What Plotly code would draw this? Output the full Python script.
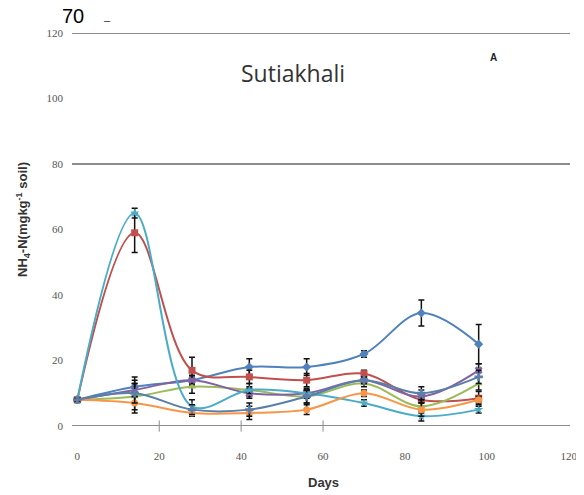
import plotly.graph_objects as go

days = [0, 14, 28, 42, 56, 70, 84, 98]

series_names = ["T1", "T2", "T3", "T4", "T5", "T6", "T7"]
blue = [8, 12, 14, 18, 18, 22, 34.5, 25]
red = [8, 59, 17, 15, 14, 16, 8, 8.5]
green = [8, 9, 12, 11, 9, 13, 6, 13]
purple = [8, 11, 14, 10, 10, 14, 9, 17]
cyan = [8, 65, 6, 11, 10, 7, 3, 5]
orange = [8, 7, 4, 4, 5, 10, 5, 8]
slate = [8, 10, 5, 5, 9, 14, 10, 15]

blue_err = [0.5, 3, 1.5, 2.5, 2.5, 1, 4, 6]
red_err = [0.5, 6, 4, 2, 2, 1, 2, 2]
green_err = [0.5, 5, 2, 2, 2, 1, 2, 2]
purple_err = [0.5, 2, 1, 1.5, 1.5, 1, 2, 2]
cyan_err = [0.5, 1.5, 2, 1, 1, 1, 1.5, 1]
orange_err = [0.5, 2, 1, 2, 1.5, 1, 2, 1]
slate_err = [0.5, 3, 1.5, 2, 2, 1, 2, 2]

y_ticks = [0, 20, 40, 60, 80, 100, 120]
x_ticks = [0, 20, 40, 60, 80, 100, 120]
x_range = [-1.3, 120.3]
grid_levels = [0, 80, 120]

series = [
    (blue, blue_err, "#4F81BD", "diamond"),
    (red, red_err, "#C0504D", "square"),
    (green, green_err, "#9BBB59", "triangle-up"),
    (purple, purple_err, "#8064A2", "x"),
    (cyan, cyan_err, "#4BACC6", "star"),
    (orange, orange_err, "#F79646", "circle"),
    (slate, slate_err, "#5A7FA8", "cross"),
]

fig = go.Figure()

for name, (vals, err, col, sym) in zip(series_names, series):
    fig.add_trace(go.Scatter(
        x=days, y=vals, name=name, mode="lines+markers",
        line=dict(color=col, width=2, shape="spline", smoothing=1),
        marker=dict(color=col, symbol=sym, size=7),
        error_y=dict(type="data", array=err, visible=True, color="#111111",
                     thickness=1.5, width=3),
        showlegend=False,
    ))

# short tick marks under the baseline
fig.add_trace(go.Scatter(
    x=x_ticks[1:4], y=[0] * 3, mode="markers", hoverinfo="skip", showlegend=False,
    marker=dict(symbol="line-ns", size=8, line=dict(color="#8a8a8a", width=1)),
    cliponaxis=False,
))

# horizontal reference lines (baseline + the two visible gridlines)
for g in grid_levels:
    fig.add_shape(type="line", xref="x", x0=x_range[0], x1=x_range[1],
                  yref="y", y0=g, y1=g, layer="above",
                  line=dict(color="#8c8c8c", width=1.8))

# page has an 8px body margin; screen coords are converted to figure coords
OFF = 8
W, H = 576, 487
L, R, T, B = 64, 14, 25, 69
pw, ph = W - L - R, H - T - B

def px(x):
    return (x - OFF - L) / pw

def py(y):
    return (H - B - (y - OFF)) / ph

def ann(text, sx, sy, size, family="Liberation Sans", color="#333333", **kw):
    return dict(text=text, x=px(sx), y=py(sy), xref="paper", yref="paper",
                xanchor="center", yanchor="middle", showarrow=False,
                font=dict(family=family, size=size, color=color), **kw)

fig.update_layout(
    width=W, height=H,
    margin=dict(l=L, r=R, t=T, b=B, autoexpand=False),
    paper_bgcolor="white", plot_bgcolor="white",
    font=dict(family="Liberation Serif", color="#555555", size=11),
    xaxis=dict(range=x_range, tickvals=x_ticks, showgrid=False,
               zeroline=False, showline=False, ticks="", ticklabelstandoff=22,
               tickfont=dict(size=11, color="#555555")),
    yaxis=dict(range=[0, 120], tickvals=y_ticks, showgrid=False,
               zeroline=False, showline=False, ticks="", ticklabelstandoff=8,
               tickfont=dict(size=11, color="#555555")),
    annotations=[
        ann("Sutiakhali", 293, 73, 23, family="Open Sans"),
        ann("<b>A</b>", 493, 58, 10, color="#222222"),
        ann("<b>Days</b>", 323, 482, 13),
        ann("<b>NH<sub>4</sub>-N(mgkg<sup>-1</sup> soil)</b>", 23, 220, 13, textangle=-90),
        ann("70", 73, 16, 20, color="#000000"),
        ann("–", 107, 20, 11),
    ],
)

fig.write_html("out.html")
